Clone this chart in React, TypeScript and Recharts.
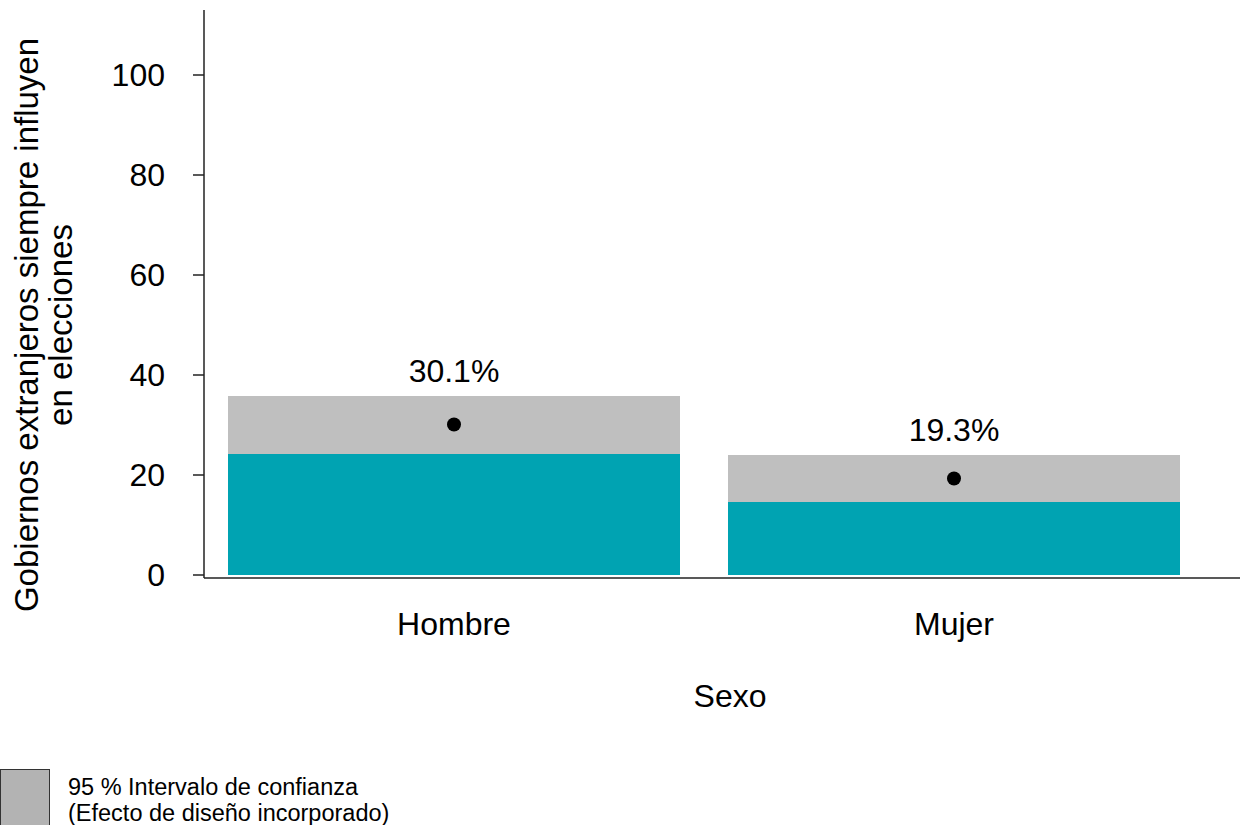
import { ComposedChart, Bar, Line, XAxis, YAxis, LabelList } from "recharts";

// Valores (porcentaje e intervalo de confianza al 95 %)
const categorias = ["Hombre", "Mujer"];
const estimacion = [30.1, 19.3];
const limiteInferior = [24.2, 14.6];
const limiteSuperior = [35.8, 24.0];
const ticksY = [0, 20, 40, 60, 80, 100];

const data = categorias.map((sexo, i) => ({
  sexo,
  inferior: limiteInferior[i],
  intervalo: limiteSuperior[i] - limiteInferior[i],
  valor: estimacion[i],
}));

const FUENTE = '"Liberation Sans", Arial, sans-serif';
const TEAL = "#00a3b2";
const GRIS = "#bfbfbf";
const EJE = "#222";

function TituloY() {
  return (
    <g fontFamily={FUENTE} fontSize={33} fill="#000">
      <text x={38} y={325} textAnchor="middle" transform="rotate(-90 38 325)">
        Gobiernos extranjeros siempre influyen
      </text>
      <text x={72} y={325} textAnchor="middle" transform="rotate(-90 72 325)">
        en elecciones
      </text>
    </g>
  );
}

function TituloX() {
  return (
    <text x={730} y={707} textAnchor="middle" fontFamily={FUENTE} fontSize={32} fill="#000">
      Sexo
    </text>
  );
}

export default function App() {
  return (
    <div style={{ position: "absolute", left: 0, top: 0, width: 1240, height: 825, background: "#fff", overflow: "hidden", fontFamily: FUENTE }}>
      <ComposedChart
        width={1240}
        height={740}
        data={data}
        margin={{ top: 10, right: 0, left: 124, bottom: 62 }}
        barCategoryGap={24}
      >
        <XAxis
          dataKey="sexo"
          height={100}
          padding={{ left: 0, right: 36 }}
          axisLine={{ stroke: EJE, strokeWidth: 1.5 }}
          tickLine={false}
          tickSize={0}
          tickMargin={34}
          tick={{ fontSize: 32, fill: "#000", fontFamily: FUENTE }}
          label={<TituloX />}
        />
        <YAxis
          width={80}
          domain={[-0.6, 113]}
          ticks={ticksY}
          allowDataOverflow
          axisLine={{ stroke: EJE, strokeWidth: 1.5 }}
          tickLine={{ stroke: EJE, strokeWidth: 1.5 }}
          tickSize={11}
          tickMargin={28}
          tick={{ fontSize: 32, fill: "#000", fontFamily: FUENTE }}
          label={<TituloY />}
        />
        <Bar dataKey="inferior" stackId="ic" fill={TEAL} isAnimationActive={false} />
        <Bar dataKey="intervalo" stackId="ic" fill={GRIS} isAnimationActive={false}>
          <LabelList
            dataKey="valor"
            position="top"
            offset={14}
            formatter={(v: number) => `${v.toFixed(1)}%`}
            style={{ fontSize: 32, fill: "#000", fontFamily: FUENTE }}
          />
        </Bar>
        <Line
          dataKey="valor"
          stroke="none"
          dot={{ r: 7, fill: "#000", stroke: "none" }}
          activeDot={false}
          isAnimationActive={false}
        />
      </ComposedChart>

      <div style={{ position: "absolute", left: 0, top: 769, width: 50, height: 70, background: "#b3b3b3", border: "1.5px solid #333", boxSizing: "border-box" }} />
      <div style={{ position: "absolute", left: 68, top: 774, fontSize: 23.5, lineHeight: "26px", color: "#000", whiteSpace: "pre" }}>
        {"95 % Intervalo de confianza\n(Efecto de diseño incorporado)"}
      </div>
    </div>
  );
}
